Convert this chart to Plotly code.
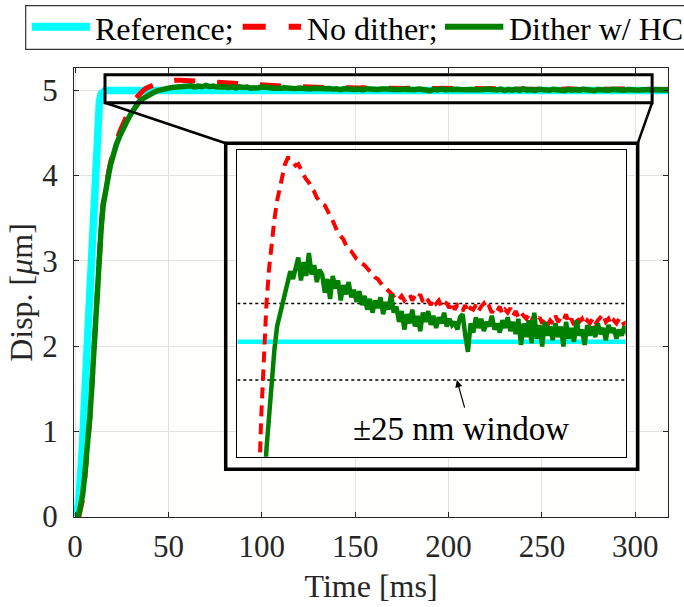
import numpy as np
import plotly.graph_objects as go

# ---------------- data ----------------
# Reference step (µm vs ms)
t_ref = [0, 1, 2, 3, 4, 5, 6, 7, 8, 9, 10, 11, 12, 13, 14, 15, 16, 320]
y_ref = [0, 0.05, 0.18, 0.45, 0.85, 1.35, 1.8, 2.25, 2.7, 3.15, 3.7, 4.2, 4.62, 4.87, 4.96, 4.99, 5.0, 5.0]

# rising part (shared time base)
t_rise = [0, 1, 2, 3, 4, 5, 6, 7, 8, 9, 10, 11, 12, 13, 14, 15, 16, 17, 18, 19, 20,
          22, 24, 26, 28, 30, 32, 34, 36, 38, 40, 42, 44, 46, 48, 50, 52, 54]
nodither_rise = [0, -0.01, 0.0, 0.08, 0.2, 0.4, 0.64, 0.88, 1.18, 1.55, 1.95, 2.45, 2.82, 3.12,
                 3.42, 3.67, 3.83, 3.95, 4.05, 4.16, 4.25,
                 4.4, 4.52, 4.63, 4.73, 4.82, 4.895, 4.95, 4.99, 5.025, 5.048, 5.065, 5.08,
                 5.092, 5.101, 5.109, 5.116, 5.12]
dither_rise = [0, 0.0, 0.03, 0.12, 0.25, 0.45, 0.68, 0.9, 1.2, 1.55, 1.95, 2.45, 2.8, 3.1,
               3.4, 3.65, 3.8, 3.92, 4.02, 4.13, 4.22,
               4.36, 4.47, 4.57, 4.65, 4.73, 4.8, 4.86, 4.9, 4.93, 4.955, 4.975, 4.995,
               5.01, 5.017, 5.027, 5.034, 5.04]

# settling part, sampled every 2 ms from 56 to 320 ms
t_settle = list(range(56, 321, 2))
nodither_settle = [
    5.120, 5.117, 5.115, 5.116, 5.112, 5.109, 5.106, 5.104, 5.100, 5.098,   # 56-74
    5.094, 5.092, 5.090, 5.089, 5.086, 5.082, 5.079, 5.075, 5.071, 5.069,   # 76-94
    5.067, 5.063, 5.060, 5.059, 5.056, 5.054, 5.053, 5.051, 5.050, 5.048,   # 96-114
    5.046, 5.044, 5.042, 5.041, 5.038, 5.036, 5.035, 5.033, 5.032, 5.030,   # 116-134
    5.031, 5.028, 5.030, 5.027, 5.029, 5.031, 5.027, 5.030, 5.028, 5.031,   # 136-154
    5.026, 5.029, 5.027, 5.024, 5.028, 5.025, 5.027, 5.023, 5.026, 5.025,   # 156-174
    5.022, 5.026, 5.021, 5.024, 5.023, 5.020, 5.024, 5.019, 5.022, 5.021,   # 176-194
    5.024, 5.020, 5.023, 5.025, 5.021, 5.023, 5.019, 5.022, 5.020, 5.023,   # 196-214
    5.018, 5.021, 5.019, 5.022, 5.017, 5.020, 5.016, 5.019, 5.017, 5.015,   # 216-234
    5.018, 5.014, 5.017, 5.013, 5.016, 5.012, 5.015, 5.011, 5.014, 5.012,   # 236-254
    5.017, 5.013, 5.016, 5.014, 5.018, 5.012, 5.015, 5.011, 5.016, 5.013,   # 256-274
    5.015, 5.011, 5.014, 5.012, 5.015, 5.011, 5.014, 5.016, 5.018, 5.013,   # 276-294
    5.015, 5.011, 5.014, 5.012, 5.015, 5.011, 5.012, 5.013, 5.012, 5.014,   # 296-314
    5.012, 5.013, 5.012,                                                   # 316-320
]
dither_settle = [
    5.046, 5.041, 5.049, 5.055, 5.040, 5.052, 5.043, 5.058, 5.044, 5.050,   # 56-74
    5.039, 5.047, 5.044, 5.032, 5.041, 5.028, 5.043, 5.035, 5.040, 5.027,   # 76-94
    5.037, 5.031, 5.039, 5.029, 5.034, 5.026, 5.033, 5.024, 5.030, 5.021,   # 96-114
    5.028, 5.019, 5.027, 5.022, 5.029, 5.018, 5.026, 5.021, 5.031, 5.019,   # 116-134
    5.023, 5.013, 5.020, 5.008, 5.018, 5.012, 5.021, 5.010, 5.017, 5.007,   # 136-154
    5.019, 5.013, 5.020, 5.011, 5.017, 5.009, 5.016, 5.012, 5.019, 5.010,   # 156-174
    5.015, 5.011, 5.013, 5.008, 5.016, 5.018, 5.004, 4.9935, 5.012, 5.006,  # 176-194
    5.016, 5.009, 5.015, 5.007, 5.013, 5.010, 5.017, 5.008, 5.012, 5.006,   # 196-214
    5.014, 5.009, 5.016, 5.007, 5.013, 5.005, 5.015, 4.998, 5.012, 5.003,   # 216-234
    5.014, 4.999, 5.019, 5.002, 5.011, 4.997, 5.013, 5.004, 5.010, 5.001,   # 236-254
    5.012, 5.003, 5.010, 4.997, 5.013, 5.002, 5.009, 5.000, 5.014, 5.004,   # 256-274
    5.008, 4.998, 5.011, 5.004, 5.010, 5.003, 5.012, 5.005, 5.009, 5.001,   # 276-294
    5.011, 5.006, 5.009, 5.002, 5.008, 5.004, 5.010, 5.006, 5.008, 5.005,   # 296-314
    5.009, 5.006, 5.007,                                                   # 316-320
]

t_all = t_rise + t_settle
y_nodither = nodither_rise + nodither_settle
y_dither = dither_rise + dither_settle

x_ticks = [0, 50, 100, 150, 200, 250, 300]
y_ticks = [0, 1, 2, 3, 4, 5]
main_xrange = [-0.6, 317.5]
main_yrange = [-0.006, 5.263]

# zoom window and inset ranges
zoom_x = [16, 309]
zoom_y = [4.855, 5.185]
inset_xrange = [16, 309]
inset_yrange = [4.925, 5.125]
target = 5.0
window = 0.025  # ±25 nm

legend_labels = ["Reference;", "No dither;", "Dither w/ HC"]

# ---------------- styling ----------------
SERIF = "Liberation Serif"
CYAN, RED, GREEN = "#00FFFF", "#FF0000", "#008000"
AX = "#262626"
W, H = 684, 607
ML, MR, MT, MB = 74, 16, 68, 90
PW, PH = W - ML - MR, H - MT - MB


def px(x):
    return (x - ML) / PW


def py(y):
    return (H - MB - y) / PH


fig = go.Figure()

# main traces
fig.add_trace(go.Scatter(x=t_ref, y=y_ref, mode="lines", line=dict(color=CYAN, width=7.5),
                         showlegend=False, hoverinfo="skip"))
fig.add_trace(go.Scatter(x=t_all, y=y_nodither, mode="lines",
                         line=dict(color=RED, width=5, dash="21px,22px"),
                         showlegend=False, hoverinfo="skip"))
fig.add_trace(go.Scatter(x=t_all, y=y_dither, mode="lines", line=dict(color=GREEN, width=5.5),
                         showlegend=False, hoverinfo="skip"))

# inset traces
for yv in (target + window, target - window):
    fig.add_trace(go.Scatter(x=inset_xrange, y=[yv, yv], mode="lines", xaxis="x2", yaxis="y2",
                             line=dict(color="black", width=1.5, dash="dot"),
                             showlegend=False, hoverinfo="skip"))
ref_in = [(t, v) for t, v in zip(t_ref, y_ref) if t >= inset_xrange[0]]
fig.add_trace(go.Scatter(x=[p[0] for p in ref_in], y=[p[1] for p in ref_in], mode="lines",
                         xaxis="x2", yaxis="y2",
                         line=dict(color=CYAN, width=4.5), showlegend=False, hoverinfo="skip"))
fig.add_trace(go.Scatter(x=t_all, y=y_nodither, mode="lines", xaxis="x2", yaxis="y2",
                         line=dict(color=RED, width=4, dash="11px,7px"),
                         showlegend=False, hoverinfo="skip"))
fig.add_trace(go.Scatter(x=t_all, y=y_dither, mode="lines", xaxis="x2", yaxis="y2",
                         line=dict(color=GREEN, width=4.5), showlegend=False, hoverinfo="skip"))

axis_common = dict(ticks="inside", ticklen=5, tickwidth=1, tickcolor=AX, showline=True,
                   linecolor=AX, linewidth=1, mirror="ticks", showgrid=True,
                   gridcolor="#e2e2e2", gridwidth=1, zeroline=False, automargin=False,
                   tickfont=dict(family=SERIF, size=31, color=AX))

fig.update_layout(
    width=W, height=H, template="none",
    margin=dict(l=ML, r=MR, t=MT, b=MB),
    paper_bgcolor="#ffffff", plot_bgcolor="#fffffe",
    showlegend=False,
    font=dict(family=SERIF),
    xaxis=dict(domain=[0, 1], range=main_xrange, tickvals=x_ticks, ticklabelstandoff=2,
               title=dict(text="Time [ms]", font=dict(family=SERIF, size=32, color=AX), standoff=11),
               **axis_common),
    yaxis=dict(domain=[0, 1], range=main_yrange, tickvals=y_ticks, ticklabelstandoff=9,
               title=dict(text="Disp. [<i>μ</i>m]", font=dict(family=SERIF, size=32, color=AX), standoff=0),
               **axis_common),
    xaxis2=dict(domain=[px(237.3), px(625.7)], anchor="y2", range=inset_xrange,
                showticklabels=False, ticks="", showgrid=False, zeroline=False,
                showline=True, mirror=True, linecolor="black", linewidth=1),
    yaxis2=dict(domain=[py(456.7), py(150.3)], anchor="x2", range=inset_yrange,
                showticklabels=False, ticks="", showgrid=False, zeroline=False,
                showline=True, mirror=True, linecolor="black", linewidth=1),
)


def dpx(xv):
    return (xv - main_xrange[0]) / (main_xrange[1] - main_xrange[0])


def dpy(yv):
    return (yv - main_yrange[0]) / (main_yrange[1] - main_yrange[0])


outer = dict(x0=px(225.7), x1=px(637.7), y0=py(469.3), y1=py(143.3))
shapes = [
    # zoom rectangle on main plot
    dict(type="rect", xref="x", yref="y", x0=zoom_x[0], x1=zoom_x[1], y0=zoom_y[0], y1=zoom_y[1],
         line=dict(color="black", width=3), layer="above"),
    # outer frame of the magnified view
    dict(type="rect", xref="paper", yref="paper", line=dict(color="black", width=3.5),
         layer="above", **outer),
    # connectors
    dict(type="line", xref="paper", yref="paper", x0=dpx(zoom_x[0]), y0=dpy(zoom_y[0]),
         x1=outer["x0"], y1=outer["y1"], line=dict(color="black", width=2.5), layer="above"),
    dict(type="line", xref="paper", yref="paper", x0=dpx(zoom_x[1]), y0=dpy(zoom_y[0]),
         x1=outer["x1"], y1=outer["y1"], line=dict(color="black", width=2.5), layer="above"),
    # legend box
    dict(type="rect", xref="paper", yref="paper", x0=px(25.7), x1=px(700), y0=py(49.3), y1=py(5.7),
         line=dict(color="#333333", width=1.2), fillcolor="white", layer="above"),
    # legend samples
    dict(type="line", xref="paper", yref="paper", x0=px(31.7), x1=px(90), y0=py(26.7), y1=py(26.7),
         line=dict(color=CYAN, width=8), layer="above"),
    dict(type="line", xref="paper", yref="paper", x0=px(242.7), x1=px(301), y0=py(26.7), y1=py(26.7),
         line=dict(color=RED, width=6, dash="23px,23px"), layer="above"),
    dict(type="line", xref="paper", yref="paper", x0=px(445), x1=px(503.3), y0=py(26.7), y1=py(26.7),
         line=dict(color=GREEN, width=6), layer="above"),
]
fig.update_layout(shapes=shapes)

annotations = []
for label, xl in zip(legend_labels, (93, 305, 507)):
    annotations.append(dict(xref="paper", yref="paper", x=px(xl), y=py(28.5), text=label,
                            showarrow=False, xanchor="left", yanchor="middle",
                            font=dict(family=SERIF, size=32, color="black")))
annotations.append(dict(xref="x2", yref="y2", x=185, y=4.9434, text="±25 nm window",
                        showarrow=False, xanchor="center", yanchor="middle",
                        font=dict(family=SERIF, size=33, color="black")))
annotations.append(dict(xref="x2", yref="y2", x=181.6, y=target - window, ax=187.8, ay=4.956,
                        axref="x2", ayref="y2", text="", showarrow=True, arrowhead=2,
                        arrowsize=1.2, arrowwidth=1.2, arrowcolor="black", standoff=0))
fig.update_layout(annotations=annotations)

fig.write_html("out.html", config={"displayModeBar": False},
               post_script="document.body.style.margin='0px';")
